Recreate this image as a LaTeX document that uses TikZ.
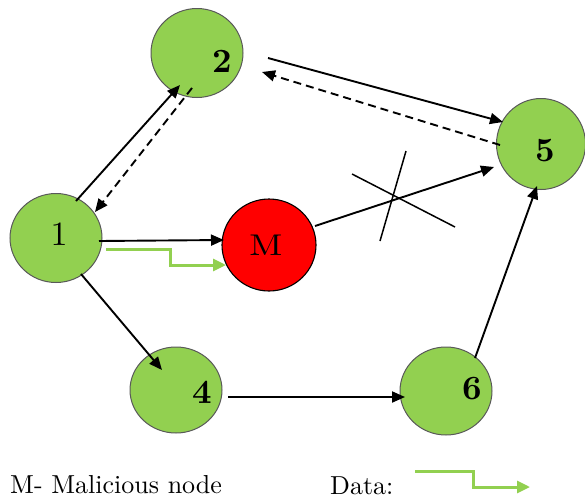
\documentclass[tikz,border=0pt]{standalone}
\usepackage{fontspec}
\setmainfont{lmroman10-regular.otf}[BoldFont=lmroman10-bold.otf]
\usetikzlibrary{arrows.meta,calc,shapes.geometric}
\definecolor{ngreen}{HTML}{92D050}
\definecolor{nred}{HTML}{FF0000}
\begin{document}
\begin{tikzpicture}[x=1pt,y=-1pt,
  gnode/.style={ellipse, minimum width=92pt, minimum height=89pt, fill=ngreen, draw=black!65, line width=1pt, inner sep=0pt},
  rnode/.style={ellipse, minimum width=94pt, minimum height=92pt, fill=nred, draw=black, line width=1.1pt, inner sep=0pt},
  lbl/.style={font=\fontsize{34}{38}\selectfont, inner sep=0pt},
  blbl/.style={lbl, font=\fontsize{34}{38}\selectfont\bfseries},
  legtext/.style={font=\fontsize{26}{32}\selectfont, inner sep=0pt, anchor=base west},
  conn/.style={line width=1.9pt, -{Triangle[length=13pt,width=11pt]}},
  dconn/.style={conn, dash pattern=on 8pt off 5pt},
  data/.style={draw=ngreen, line width=3pt, -{Triangle[length=13pt,width=12pt,fill=ngreen]}},
  cut/.style={line width=1.5pt}]
\useasboundingbox (0,0) rectangle (585,498);
% nodes
\node[gnode] (n1) at (56,238) {};
\node[gnode] (n2) at (197,53) {};
\node[gnode, minimum width=89pt, minimum height=91pt] (n5) at (541,144) {};
\node[rnode] (nm) at (269,245) {};
\node[gnode, minimum height=86pt] (n4) at (176,390) {};
\node[gnode, minimum height=88pt] (n6) at (446,391) {};
% labels
\node[lbl] (l1) at (59,234) {1};
\node[blbl] (l2) at (222,61) {2};
\node[blbl] (l5) at (545,151) {5};
\node[lbl, font=\fontsize{30}{34}\selectfont, xscale=1.2] (lm) at (266,245) {M};
\node[blbl] (l4) at (202,392) {4};
\node[blbl] (l6) at (472,389) {6};
% connectors
\draw[conn] ($(n1)+(20,-37)$) -- ($(n2)+(-17,32)$);
\draw[dconn] ($(n2)+(-5,35)$) -- ($(n1)+(39,-26)$);
\draw[conn] ($(n2)+(71,5)$) -- ($(n5)+(-38,-22)$);
\draw[dconn] ($(n5)+(-41,1)$) -- ($(n2)+(65,19)$);
\draw[conn] ($(n1)+(43,3)$) -- ($(nm)+(-45,-5)$);
\draw[conn] ($(nm)+(46,-19)$) -- ($(n5)+(-47,23)$);
\draw[conn] ($(n1)+(25,36)$) -- ($(n4)+(-14,-20)$);
\draw[conn] ($(n4)+(52,7)$) -- ($(n6)+(-41,6)$);
\draw[conn] ($(n6)+(29,-33)$) -- ($(n5)+(-4,42)$);
% cut mark on the M-5 link
\coordinate (cx) at (395,198);
\draw[cut] ($(cx)+(-43,-24)$) -- ($(cx)+(60,29)$);
\draw[cut] ($(cx)+(11,-47)$) -- ($(cx)+(-15,43)$);
% data flow
\draw[data] ($(n1)+(50,11)$) -- (170,249) -- (170,265) -- ($(nm)+(-43,20)$);
% legend
\node[legtext] (leg1) at (10,493) {M- Malicious node};
\node[legtext] (leg2) at (330,494) {Data:};
\coordinate (ds) at (415,471);
\coordinate (de) at (530,487);
\draw[data] (ds) -- (473,471) -- (473,487) -- (de);
\end{tikzpicture}
\end{document}
